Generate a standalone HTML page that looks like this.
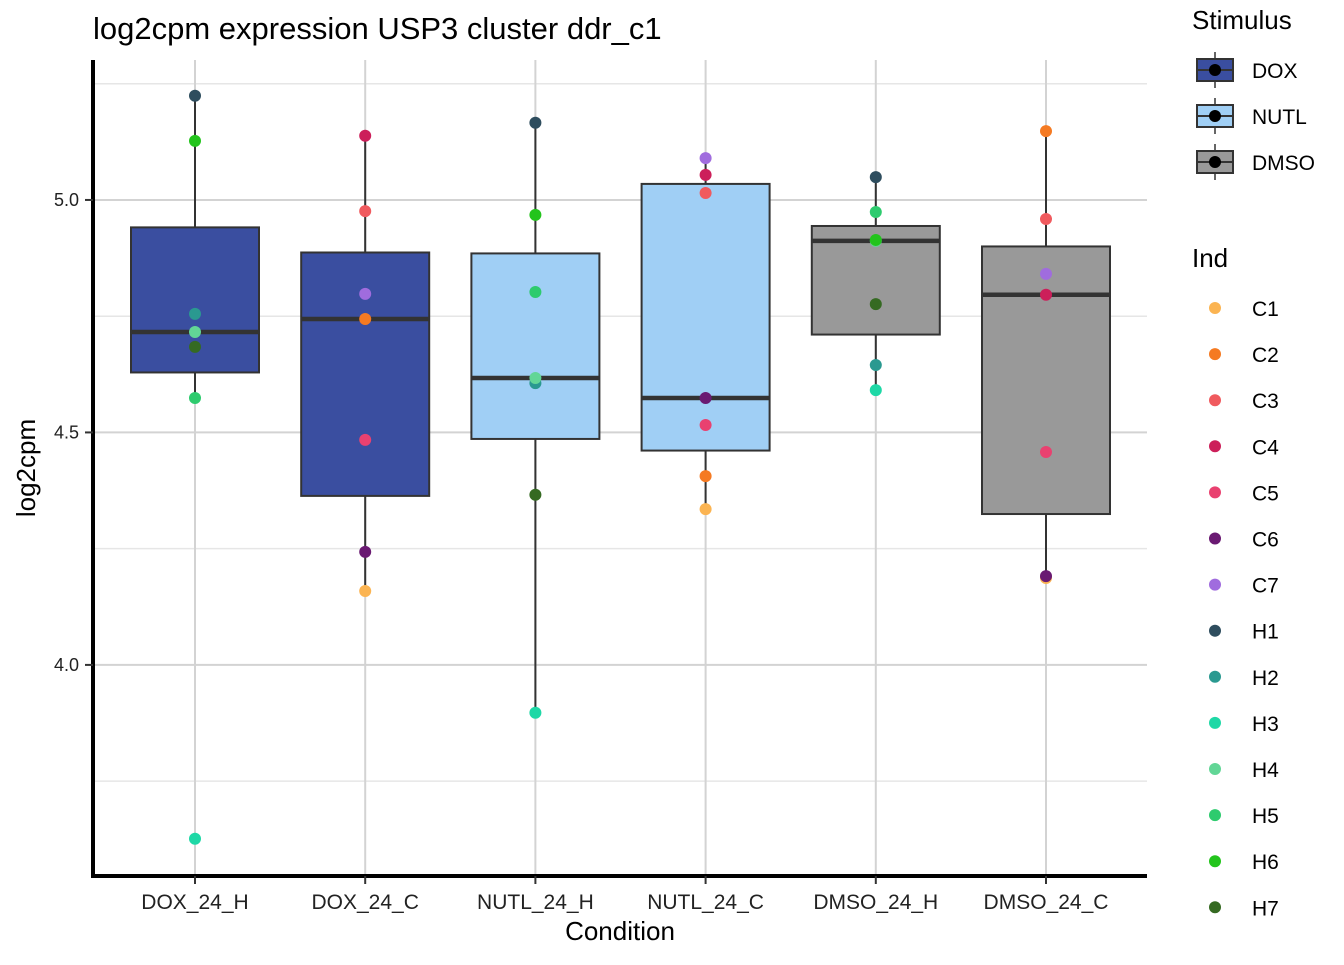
<!DOCTYPE html>
<html><head><meta charset="utf-8"><style>
body{margin:0;background:#fff;font-family:"Liberation Sans",sans-serif}
</style></head><body>
<svg id="chart" width="1344" height="960" xmlns="http://www.w3.org/2000/svg" font-family="Liberation Sans, sans-serif">
<rect width="1344" height="960" fill="#fff"/>
<text x="93" y="39" font-size="31">log2cpm expression USP3 cluster ddr_c1</text>
<g id="grid"></g><g id="boxes"></g><g id="pts"></g><g id="axes"></g><g id="legend"></g>
</svg>
<script>
const categories=["DOX_24_H","DOX_24_C","NUTL_24_H","NUTL_24_C","DMSO_24_H","DMSO_24_C"];
const stimulus=["DOX","DOX","NUTL","NUTL","DMSO","DMSO"];
const stimNames=["DOX","NUTL","DMSO"];
const stimColors=["#3A4EA0","#A0CFF5","#999999"];
const indNames=["C1","C2","C3","C4","C5","C6","C7","H1","H2","H3","H4","H5","H6","H7"];
const indColors=["#FBB452","#F57A22","#F05A5E","#CC1F5A","#E94170","#6A1A72","#A06CDE","#2E4D5E","#2A9990","#1ED8A6","#62D696","#2ECB6E","#23C41C","#356A22"];
const hInds=["H1","H2","H3","H4","H5","H6","H7"];
const cInds=["C1","C2","C3","C4","C5","C6","C7"];
const valsDOX_H=[5.224,4.755,3.626,4.716,4.574,5.127,4.684];
const valsDOX_C=[4.159,4.744,4.976,5.138,4.484,4.243,4.798];
const valsNUTL_H=[5.166,4.606,3.897,4.617,4.802,4.968,4.366];
const valsNUTL_C=[4.335,4.406,5.015,5.054,4.516,4.574,5.090];
const valsDMSO_H=[5.049,4.645,4.591,4.912,4.974,4.914,4.776];
const valsDMSO_C=[4.187,5.148,4.959,4.796,4.458,4.191,4.841];
const seriesVals=[valsDOX_H,valsDOX_C,valsNUTL_H,valsNUTL_C,valsDMSO_H,valsDMSO_C];
const seriesInds=[hInds,cInds,hInds,cInds,hInds,cInds];
const yTicks=[4.0,4.5,5.0];
const yMinor=[3.75,4.25,4.75,5.25];
const NS="http://www.w3.org/2000/svg";
const L=93,R=1147,T=60,B=876,yLo=3.546,yHi=5.301;
const y=v=>B-(v-yLo)/(yHi-yLo)*(B-T);
const x=i=>195+i*170.2;
function mk(p,t,a){const e=document.createElementNS(NS,t);for(const k in a)e.setAttribute(k,a[k]);document.getElementById(p).appendChild(e);return e;}
yMinor.forEach(v=>{const e=mk("grid","line",{x1:L,x2:R,y1:y(v),y2:y(v),stroke:"#e6e6e6","stroke-width":1.5});

});
yTicks.forEach(v=>{const e=mk("grid","line",{x1:L,x2:R,y1:y(v),y2:y(v),stroke:"#d3d3d3","stroke-width":2});

});
categories.forEach((c,i)=>{const e=mk("grid","line",{x1:x(i),x2:x(i),y1:T,y2:B,stroke:"#d3d3d3","stroke-width":2});

});
function q(s,p){const h=(s.length-1)*p,lo=Math.floor(h);return s[lo]+(h-lo)*((s[lo+1]??s[lo])-s[lo]);}
seriesVals.forEach((vals,i)=>{
 const s=[...vals].sort((a,b)=>a-b);const q1=q(s,.25),md=q(s,.5),q3=q(s,.75),iqr=q3-q1;
 const wl=Math.min(...s.filter(v=>v>=q1-1.5*iqr)),wh=Math.max(...s.filter(v=>v<=q3+1.5*iqr));
 const cx=x(i),hw=64;
 const g=mk("boxes","g",{});
 
 
 [[wh,q3],[q1,wl]].forEach(([a,b])=>{const l=document.createElementNS(NS,"line");l.setAttribute("x1",cx);l.setAttribute("x2",cx);l.setAttribute("y1",y(a));l.setAttribute("y2",y(b));l.setAttribute("stroke","#333");l.setAttribute("stroke-width",2);g.appendChild(l);});
 const r=document.createElementNS(NS,"rect");r.setAttribute("x",cx-hw);r.setAttribute("width",hw*2);r.setAttribute("y",y(q3));r.setAttribute("height",y(q1)-y(q3));r.setAttribute("fill",stimColors[stimNames.indexOf(stimulus[i])]);r.setAttribute("stroke","#333");r.setAttribute("stroke-width",2);g.appendChild(r);
 const m=document.createElementNS(NS,"line");m.setAttribute("x1",cx-hw);m.setAttribute("x2",cx+hw);m.setAttribute("y1",y(md));m.setAttribute("y2",y(md));m.setAttribute("stroke","#333");m.setAttribute("stroke-width",4.5);g.appendChild(m);
 vals.forEach((v,j)=>{const ind=seriesInds[i][j];const p=mk("pts","circle",{cx:cx,cy:y(v),r:6,fill:indColors[indNames.indexOf(ind)]});
 
 });
});
let e=mk("axes","line",{x1:L,x2:L,y1:T,y2:B+2,stroke:"#000","stroke-width":4});

e=mk("axes","line",{x1:L-2,x2:R,y1:B,y2:B,stroke:"#000","stroke-width":4});

yTicks.forEach(v=>{mk("axes","line",{x1:L-8,x2:L,y1:y(v),y2:y(v),stroke:"#333","stroke-width":2});
const t=mk("axes","text",{x:L-14,y:y(v)+6,"font-size":18,"text-anchor":"end",fill:"#222"});t.textContent=v.toFixed(1);
});
categories.forEach((c,i)=>{mk("axes","line",{x1:x(i),x2:x(i),y1:B,y2:B+8,stroke:"#333","stroke-width":2});
const t=mk("axes","text",{x:x(i),y:909,"font-size":21,"text-anchor":"middle",fill:"#222"});t.textContent=c;
});
let t=mk("axes","text",{x:620,y:940,"font-size":26,"text-anchor":"middle"});t.textContent="Condition";

t=mk("axes","text",{x:0,y:0,"font-size":26,"text-anchor":"middle",transform:"translate(35,468) rotate(-90)"});t.textContent="log2cpm";

t=mk("legend","text",{x:1192,y:29,"font-size":26});t.textContent="Stimulus";

stimNames.forEach((s,i)=>{const cy=70+i*46;
mk("legend","line",{x1:1215,x2:1215,y1:cy-18,y2:cy+18,stroke:"#333","stroke-width":1.5});
mk("legend","rect",{x:1197,y:cy-11,width:36,height:22,fill:stimColors[i],stroke:"#333","stroke-width":2});
mk("legend","line",{x1:1197,x2:1233,y1:cy,y2:cy,stroke:"#333","stroke-width":2});
mk("legend","circle",{cx:1215,cy:cy,r:6,fill:"#000"});
const tt=mk("legend","text",{x:1252,y:cy+8,"font-size":21});tt.textContent=s;
});
t=mk("legend","text",{x:1192,y:267,"font-size":26});t.textContent="Ind";

indNames.forEach((s,i)=>{const cy=308+i*46.1;
mk("legend","circle",{cx:1215,cy:cy,r:6,fill:indColors[i]});
const tt=mk("legend","text",{x:1252,y:cy+8,"font-size":21});tt.textContent=s;
});
</script>
</body></html>
